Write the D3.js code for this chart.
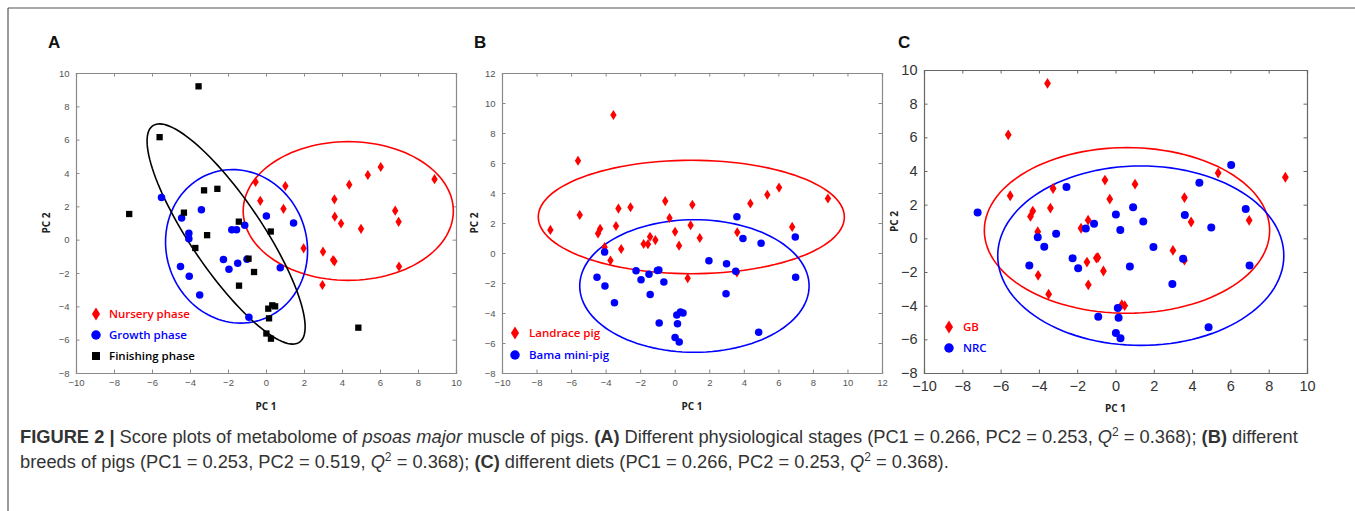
<!DOCTYPE html>
<html>
<head>
<meta charset="utf-8">
<script src="https://cdn.jsdelivr.net/npm/d3@7"></script>
<style>
  body { margin: 0; background: #fff; }
  svg { display: block; }
</style>
</head>
<body>
<svg id="fig" width="1355" height="511"></svg>
<script>
// PCA scores (same 59 samples in all three panels)
var pc1 = [-0.55, -0.30, 1.02, 0.92, 1.98, 3.00, 3.53, 3.60, 2.97, 3.60,
  3.62, 3.95, 4.38, 5.36, 6.04, 5.00, 6.80, 6.98, 7.00, 8.87,
  -5.50, -4.44, -4.06, -4.06, -3.40, -4.50, -4.04, -3.49, -2.24, -1.95,
  -1.80, -1.55, -1.49, -1.12, -1.00, -0.90, 0.02, 0.75, 1.45,
  -3.55, -5.60, -7.20, -4.32, -3.26, -2.56, -3.10, -3.72, -1.43, 0.25,
  -0.92, -0.63, -1.42, 0.12, 0.33, 0.48, 0.16, 0.02, 0.26, 4.86];
var pc2 = [3.46, 2.33, 3.22, 1.85, -0.52, -0.72, -1.22, -1.30, -2.72, 2.42,
  1.38, 0.97, 3.30, 3.88, 4.36, 0.65, 1.74, 1.07, -1.61, 3.63,
  2.53, 1.30, 0.39, 0.06, 1.80, -1.61, -2.20, -3.32, -1.19, -1.78,
  0.60, 0.59, -1.41, 0.86, -1.17, -4.66, 1.42, -1.68, 1.00,
  9.20, 6.15, 1.54, 1.62, 2.96, 3.05, 0.27, -0.50, 1.08, 0.49,
  -1.14, -1.94, -2.76, -4.14, -3.94, -4.00, -4.72, -5.63, -5.94, -5.28];

// group of each sample in each panel
var stageNames = ["Nursery phase", "Growth phase", "Finishing phase"];
var stage = [0,0,0,0,0,0,0,0,0,0, 0,0,0,0,0,0,0,0,0,0,
  1,1,1,1,1,1,1,1,1,1, 1,1,1,1,1,1,1,1,1,
  2,2,2,2,2,2,2,2,2,2, 2,2,2,2,2,2,2,2,2,2];
var breedNames = ["Landrace pig", "Bama mini-pig"];
var breed = [0,0,0,0,1,1,1,0,1,1, 0,1,0,0,0,1,0,1,1,0,
  0,0,0,1,0,1,1,1,1,1, 0,0,1,0,1,1,0,0,0,
  0,0,0,0,0,0,0,0,0,0, 1,1,1,1,1,1,1,1,1,1];
var dietNames = ["GB", "NRC"];
var diet = [0,0,0,1,1,0,1,0,1,0, 1,0,1,0,1,1,1,0,1,0,
  0,0,0,1,0,1,0,0,1,1, 0,1,0,1,0,1,1,1,1,
  0,0,1,0,0,1,1,1,0,1, 0,0,0,1,0,0,1,1,1,1];

// confidence ellipses per group: [cx, cy, semi-axis a, semi-axis b, angle deg]
var stageEllipses = [[4.33, 1.72, 5.53, 4.16, 0], [-1.55, -0.40, 4.62, 3.72, 97.6], [-2.10, 0.34, 7.56, 1.95, -59.8]];
var breedEllipses = [[0.96, 2.40, 8.86, 3.78, 0], [1.14, -2.20, 6.64, 4.42, 0]];
var dietEllipses = [[0.60, 0.47, 7.45, 4.92, 0], [1.32, -1.03, 7.47, 5.33, 0]];

var svg = d3.select('#fig');

// figure frame (top + left rule)
svg.append('line').attr('x1', 8).attr('y1', 8).attr('x2', 1355).attr('y2', 8)
  .attr('stroke', '#555').attr('stroke-width', 1.2);
svg.append('line').attr('x1', 8).attr('y1', 8).attr('x2', 8).attr('y2', 511)
  .attr('stroke', '#555').attr('stroke-width', 1.2);

function diamond(w, h) {
  return 'M0,' + (-h/2) + 'L' + (w/2) + ',0L0,' + (h/2) + 'L' + (-w/2) + ',0Z';
}
function marker(sel, kind, size) {
  if (kind === 'diamond') sel.append('path').attr('d', diamond(size * 0.85, size * 1.35));
  else if (kind === 'circle') sel.append('circle').attr('r', size / 2);
  else sel.append('rect').attr('x', -size * 0.42).attr('y', -size * 0.42)
    .attr('width', size * 0.84).attr('height', size * 0.84);
}

function drawPanel(p) {
  var x = d3.scaleLinear().domain(p.xDomain).range([p.left, p.right]);
  var y = d3.scaleLinear().domain(p.yDomain).range([p.bottom, p.top]);
  var g = svg.append('g');

  g.append('text').attr('x', p.labelX).attr('y', 48).text(p.label)
    .attr('font-family', 'Liberation Sans, Arial, sans-serif')
    .attr('font-weight', 'bold').attr('font-size', 17).attr('fill', '#111');

  var xt = d3.range(p.xDomain[0], p.xDomain[1] + 1, 2);
  var yt = d3.range(p.yDomain[0], p.yDomain[1] + 1, 2);
  var tl = 3.5;

  g.append('g').attr('transform', 'translate(0,' + p.bottom + ')')
    .call(d3.axisBottom(x).tickValues(xt).tickSize(-tl).tickPadding(p.tickPadX + tl));
  g.append('g').attr('transform', 'translate(0,' + p.top + ')')
    .call(d3.axisTop(x).tickValues(xt).tickSize(-tl).tickFormat(''));
  g.append('g').attr('transform', 'translate(' + p.left + ',0)')
    .call(d3.axisLeft(y).tickValues(yt).tickSize(-tl).tickPadding(p.tickPadY + tl));
  g.append('g').attr('transform', 'translate(' + p.right + ',0)')
    .call(d3.axisRight(y).tickValues(yt).tickSize(-tl).tickFormat(''));

  g.selectAll('.domain').attr('stroke', p.axisColor).attr('stroke-width', 1.2);
  g.selectAll('.tick line').attr('stroke', p.axisColor);
  g.selectAll('.tick text').attr('font-family', 'Liberation Sans, Arial, sans-serif')
    .attr('font-size', p.tickFont).attr('fill', p.tickColor);

  g.append('text').text('PC 1')
    .attr('x', (p.left + p.right) / 2).attr('y', p.bottom + p.xLabelOff)
    .attr('text-anchor', 'middle').attr('font-family', 'Open Sans, sans-serif')
    .attr('font-weight', 'bold').attr('font-size', 10).attr('fill', '#222');
  g.append('text').text('PC 2')
    .attr('transform', 'translate(' + (p.left - p.yLabelOff) + ',' + (p.top + p.bottom) / 2 + ') rotate(-90)')
    .attr('text-anchor', 'middle').attr('font-family', 'Open Sans, sans-serif')
    .attr('font-weight', 'bold').attr('font-size', 10).attr('fill', '#222');

  // ellipses
  var line = d3.line().x(function (d) { return x(d[0]); }).y(function (d) { return y(d[1]); });
  p.ellipses.forEach(function (e, i) {
    var phi = e[4] * Math.PI / 180;
    var pts = d3.range(0, 361, 3).map(function (t) {
      t = t * Math.PI / 180;
      return [e[0] + e[2] * Math.cos(t) * Math.cos(phi) - e[3] * Math.sin(t) * Math.sin(phi),
              e[1] + e[2] * Math.cos(t) * Math.sin(phi) + e[3] * Math.sin(t) * Math.cos(phi)];
    });
    g.append('path').attr('d', line(pts)).attr('fill', 'none')
      .attr('stroke', p.colors[i]).attr('stroke-width', 1.6);
  });

  // points, group by group
  p.names.forEach(function (name, k) {
    var idx = d3.range(pc1.length).filter(function (i) { return p.groups[i] === k; });
    g.selectAll(null).data(idx).enter().append('g')
      .attr('transform', function (i) { return 'translate(' + x(pc1[i]) + ',' + y(pc2[i]) + ')'; })
      .attr('fill', p.colors[k])
      .each(function () { marker(d3.select(this), p.shapes[k], p.markSize); });
  });

  // legend
  p.names.forEach(function (name, k) {
    var ly = p.legY + k * p.legStep;
    var lg = g.append('g').attr('transform', 'translate(' + p.legX + ',' + ly + ')').attr('fill', p.colors[k]);
    marker(lg, p.shapes[k], p.legSize);
    g.append('text').attr('x', p.legX + p.legTextOff).attr('y', ly + 4).text(name)
      .attr('font-family', 'Open Sans, sans-serif').attr('font-weight', 600)
      .attr('font-size', p.legFont).attr('fill', p.colors[k]);
  });
}

drawPanel({
  label: 'A', labelX: 48, left: 76, right: 456, top: 73, bottom: 373,
  xDomain: [-10, 10], yDomain: [-8, 10], axisColor: '#8a8a8a', tickColor: '#555', tickFont: 9.5,
  tickPadX: 3, tickPadY: 3, xLabelOff: 37, yLabelOff: 26,
  groups: stage, names: stageNames, ellipses: stageEllipses,
  colors: ['#ff0000', '#0000ff', '#000000'], shapes: ['diamond', 'circle', 'square'], markSize: 7.5,
  legX: 96, legY: 314, legStep: 21, legSize: 9.5, legTextOff: 13, legFont: 11.5
});
drawPanel({
  label: 'B', labelX: 474, left: 502, right: 882, top: 73, bottom: 373,
  xDomain: [-10, 12], yDomain: [-8, 12], axisColor: '#8a8a8a', tickColor: '#555', tickFont: 9.5,
  tickPadX: 3, tickPadY: 3, xLabelOff: 37, yLabelOff: 24,
  groups: breed, names: breedNames, ellipses: breedEllipses,
  colors: ['#ff0000', '#0000ff'], shapes: ['diamond', 'circle'], markSize: 7.5,
  legX: 515, legY: 333, legStep: 22, legSize: 9.5, legTextOff: 14, legFont: 11.5
});
drawPanel({
  label: 'C', labelX: 898, left: 924, right: 1307, top: 70, bottom: 373,
  xDomain: [-10, 10], yDomain: [-8, 10], axisColor: '#666', tickColor: '#333', tickFont: 14.5,
  tickPadX: 4, tickPadY: 3, xLabelOff: 39, yLabelOff: 26,
  groups: diet, names: dietNames, ellipses: dietEllipses,
  colors: ['#ff0000', '#0000ff'], shapes: ['diamond', 'circle'], markSize: 8,
  legX: 949, legY: 327, legStep: 21, legSize: 9.5, legTextOff: 14, legFont: 11.5
});

// caption
var line1 = [
  ['FIGURE 2 | ', 'b'], ['Score plots of metabolome of ', ''], ['psoas major', 'i'],
  [' muscle of pigs. ', ''], ['(A)', 'b'], [' Different physiological stages (PC1 = 0.266, PC2 = 0.253, ', ''],
  ['Q', 'i'], ['2', 'sup'], [' = 0.368); ', ''], ['(B)', 'b'], [' different', '']
];
var line2 = [
  ['breeds of pigs (PC1 = 0.253, PC2 = 0.519, ', ''], ['Q', 'i'], ['2', 'sup'], [' = 0.368); ', ''],
  ['(C)', 'b'], [' different diets (PC1 = 0.266, PC2 = 0.253, ', ''], ['Q', 'i'], ['2', 'sup'], [' = 0.368).', '']
];
function writeLine(parts, yy) {
  var t = svg.append('text').attr('x', 20).attr('y', yy)
    .attr('font-family', 'Liberation Sans, Arial, sans-serif')
    .attr('font-size', 18.3).attr('fill', '#333').attr('xml:space', 'preserve');
  parts.forEach(function (p, i) {
    var ts = t.append('tspan').text(p[0]);
    if (p[1] === 'b') ts.attr('font-weight', 'bold');
    if (p[1] === 'i') ts.attr('font-style', 'italic');
    if (p[1] === 'sup') ts.attr('font-size', 12).attr('dy', -7);
    if (i > 0 && parts[i - 1][1] === 'sup') ts.attr('dy', 7);
  });
}
writeLine(line1, 443);
writeLine(line2, 468);
</script>
</body>
</html>
